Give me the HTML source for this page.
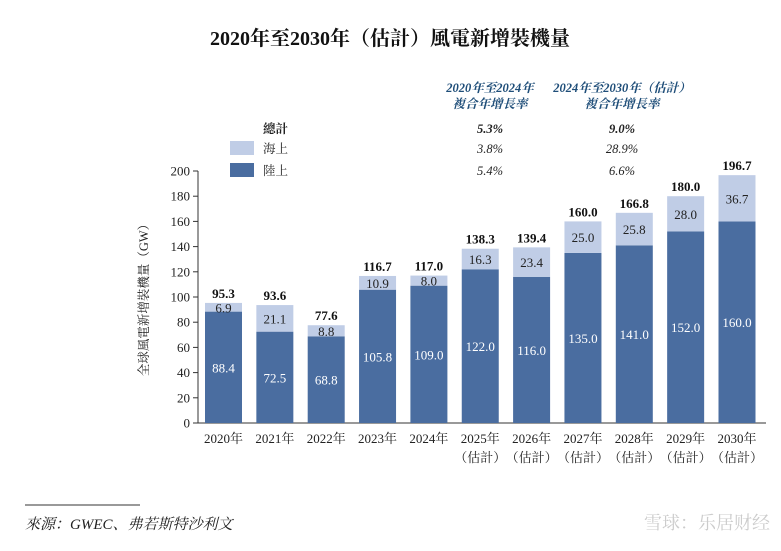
<!DOCTYPE html>
<html><head><meta charset="utf-8"><style>
body{margin:0;background:#fff;width:781px;height:546px;overflow:hidden}
svg text{font-family:"Liberation Serif","Noto Serif CJK SC",serif}
</style></head><body>
<svg width="781" height="546" id="chart">
<text x="390" y="45" text-anchor="middle" font-size="20" font-weight="bold" fill="#111">2020年至2030年（估計）風電新增裝機量</text>
<g fill="#1f4e79" font-style="italic" font-weight="bold" font-size="12.5" text-anchor="middle">
<text x="490" y="92">2020年至2024年</text><text x="490" y="108">複合年增長率</text>
<text x="622" y="92">2024年至2030年（估計）</text><text x="622" y="108">複合年增長率</text>
</g>
<g font-size="12.5" fill="#222">
<text x="263" y="133" font-weight="bold">總計</text>
<rect x="230" y="141" width="24" height="14" fill="#c0cde6"/>
<text x="263" y="153">海上</text>
<rect x="230" y="163" width="24" height="14" fill="#4a6da0"/>
<text x="263" y="175">陸上</text>
</g>
<g font-size="12.5" font-style="italic" fill="#222" text-anchor="middle">
<text x="490" y="133" font-weight="bold">5.3%</text><text x="622" y="133" font-weight="bold">9.0%</text>
<text x="490" y="153">3.8%</text><text x="622" y="153">28.9%</text>
<text x="490" y="175">5.4%</text><text x="622" y="175">6.6%</text>
</g>
<g id="plot"></g>
<text transform="translate(148,297) rotate(-90)" text-anchor="middle" font-size="12.5" fill="#222">全球風電新增裝機量（GW）</text>
<line x1="25" y1="505" x2="140" y2="505" stroke="#333" stroke-width="1"/>
<text x="25" y="529" font-size="15" font-style="italic" fill="#222">來源：GWEC、弗若斯特沙利文</text>
<text x="770" y="529" text-anchor="end" font-size="18" fill="#ccc" font-family="Liberation Sans,Noto Sans CJK SC,sans-serif">雪球：乐居财经</text>
</svg>
<script>
const categories=["2020年","2021年","2022年","2023年","2024年","2025年","2026年","2027年","2028年","2029年","2030年"];
const estimated=[false,false,false,false,false,true,true,true,true,true,true];
const onshore=[88.4,72.5,68.8,105.8,109.0,122.0,116.0,135.0,141.0,152.0,160.0];
const offshore=[6.9,21.1,8.8,10.9,8.0,16.3,23.4,25.0,25.8,28.0,36.7];
const totals=[95.3,93.6,77.6,116.7,117.0,138.3,139.4,160.0,166.8,180.0,196.7];
const yTicks=[0,20,40,60,80,100,120,140,160,180,200];
const NS="http://www.w3.org/2000/svg",g=document.getElementById('plot');
const y=v=>423-v*1.26, xc=i=>223.5+i*51.35, bw=37;
function mk(t,a,txt){const e=document.createElementNS(NS,t);for(const k in a)e.setAttribute(k,a[k]);if(txt!=null)e.textContent=txt;g.appendChild(e);return e;}
let ax=mk('line',{x1:198,y1:171,x2:198,y2:423,stroke:'#333'});


let bx=mk('line',{x1:198,y1:423,x2:766,y2:423,stroke:'#333'});


yTicks.forEach(t=>{
 let l=mk('line',{x1:193,y1:y(t),x2:198,y2:y(t),stroke:'#333'});
 
 
 let tx=mk('text',{x:190,y:y(t)+4.5,'text-anchor':'end','font-size':13,fill:'#222'},t);
 
 
});
categories.forEach((c,i)=>{
 const x=xc(i)-bw/2;
 let r1=mk('rect',{x:x,y:y(onshore[i]),width:bw,height:onshore[i]*1.26,fill:'#4a6da0'});
 
 
 let r2=mk('rect',{x:x,y:y(onshore[i]+offshore[i]),width:bw,height:offshore[i]*1.26,fill:'#c0cde6'});
 
 
 let t1=mk('text',{x:xc(i),y:y(onshore[i]/2)+5,'text-anchor':'middle','font-size':13,fill:'#fff'},onshore[i].toFixed(1));
 
 
 let t2=mk('text',{x:xc(i),y:y(onshore[i]+offshore[i]/2)+5,'text-anchor':'middle','font-size':13,fill:'#222'},offshore[i].toFixed(1));
 
 
 let t3=mk('text',{x:xc(i),y:y(totals[i])-5,'text-anchor':'middle','font-size':13,'font-weight':'bold',fill:'#111'},totals[i].toFixed(1));
 
 
 let l=mk('text',{x:xc(i),y:443,'text-anchor':'middle','font-size':13,fill:'#222'},c);
 
 
 if(estimated[i]){
  let e=mk('text',{x:xc(i),y:462,'text-anchor':'middle','font-size':13,fill:'#222'},'（估計）');
  
  
 }
});
</script>
</body></html>
